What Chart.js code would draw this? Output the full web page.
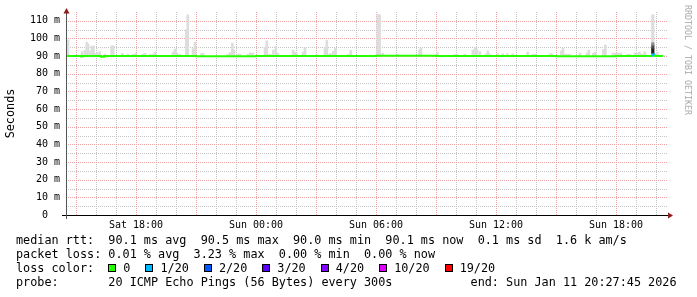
<!DOCTYPE html>
<html>
<head>
<meta charset="utf-8">
<script src="https://cdn.jsdelivr.net/npm/chart.js@4.4.1/dist/chart.umd.min.js"></script>
<style>
  html, body { margin: 0; padding: 0; background: #fff; }
  #wrap { position: relative; width: 697px; height: 297px; overflow: hidden; background: #fff; }
  #c { position: absolute; left: 0; top: 0; }
  #info { position: absolute; left: 16px; top: 234px; margin: 0; font-family: "DejaVu Sans Mono", monospace;
          font-size: 11.8px; line-height: 13.9px; white-space: pre; color: #000; }
  .box { display: inline-block; width: 6px; height: 6px; border: 1px solid #000; margin-right: 7px; vertical-align: baseline; }
  .item { margin-right: 15px; }
  #credit { position: absolute; left: 687.5px; top: 60px; transform: translate(-50%, -50%) rotate(90deg);
            font-family: "DejaVu Sans Mono", monospace; font-size: 8.3px; color: #a8a8a8; white-space: nowrap; }
</style>
</head>
<body>
<div id="wrap">
  <canvas id="c" width="697" height="297"></canvas>
  <div id="credit">RRDTOOL / TOBI OETIKER</div>
  <pre id="info">median rtt:  90.1 ms avg  90.5 ms max  90.0 ms min  90.1 ms now  0.1 ms sd  1.6 k am/s
packet loss: 0.01 % avg  3.23 % max  0.00 % min  0.00 % now
loss color:  <span id="losskey"></span>
probe:       20 ICMP Echo Pings (56 Bytes) every 300s           end: Sun Jan 11 20:27:45 2026</pre>
</div>
<script>
// ---- axis ticks (hours since Sat 00:00) ----
const xGridHours = [15,16,17,18,19,20,21,22,23,24,25,26,27,28,29,30,31,32,33,34,35,36,37,38,39,40,41,42,43,44];
const xTickHours = [18, 24, 30, 36, 42];
const xTickLabels = ['Sat 18:00', 'Sun 00:00', 'Sun 06:00', 'Sun 12:00', 'Sun 18:00'];
const yGridValues = [5,10,15,20,25,30,35,40,45,50,55,60,65,70,75,80,85,90,95,100,105,110];
const yTickValues = [0,10,20,30,40,50,60,70,80,90,100,110];
const yTickLabels = ['0  ','10 m','20 m','30 m','40 m','50 m','60 m','70 m','80 m','90 m','100 m','110 m'];

// ---- median rtt (ms) ----
const medianTimes  = [14.53, 15.27, 15.34, 16.25, 16.40, 18.0, 21.0, 24.0, 27.0, 30.0, 33.0, 36.0, 39.0, 42.0, 43.77, 43.90, 44.37];
const medianValues = [90.1,  89.8,  90.1,  89.6,  90.1,  90.1, 90.0, 90.1, 90.1, 90.2, 90.1, 90.1, 90.0, 90.1, 90.6,  90.1,  90.1];
const medianLoss   = [0,     0,     0,     0,     0,     0,    0,    0,    0,    0,    0,    0,    0,    0,    1,     0,     0];

// ---- smoke (ms): upper edge of the ping spread per sample ----
const smokeBase = 90.0;
const smokeTimes = [
  14.60, 15.30, 15.44, 15.54, 15.61, 15.71, 15.80, 15.87, 15.95, 16.07,
  16.19, 16.46, 16.78, 16.86, 17.32, 17.60, 17.87, 18.00, 18.34, 18.45,
  18.70, 18.84, 18.95, 19.85, 19.95, 20.05, 20.19, 20.52, 20.59, 20.85,
  20.95, 21.28, 21.36, 22.59, 22.71, 22.82, 22.90, 23.08, 23.18, 23.60,
  23.72, 23.84, 24.45, 24.54, 24.63, 24.72, 24.87, 24.99, 25.09, 25.85,
  25.95, 26.04, 26.35, 26.45, 27.05, 27.45, 27.54, 27.62, 27.72, 27.87,
  27.97, 28.62, 28.74, 30.09, 30.18, 30.34, 31.09, 32.18, 32.25, 33.07,
  33.95, 34.07, 34.44, 34.84, 34.95, 35.05, 35.19, 35.49, 35.59, 35.69,
  36.09, 36.34, 36.57, 36.84, 37.59, 37.85, 37.95, 38.69, 38.77, 39.27,
  39.35, 39.45, 39.55, 39.65, 40.20, 40.55, 40.64, 40.87, 40.97, 41.37,
  41.47, 41.85, 41.95, 42.05, 42.15, 42.25, 42.59, 42.69, 42.95, 43.05,
  43.17, 43.30, 43.44, 44.07
];
const smokeTops = [
  99.2, 92.6, 93.2, 97.9, 96.8, 92.6, 95.7, 95.7, 91.5, 91.9,
  92.5, 91.0, 95.8, 95.8, 91.5, 91.0, 91.0, 91.5, 91.0, 91.6,
  91.0, 91.1, 92.3, 92.3, 94.0, 91.8, 91.0, 105.0, 113.4, 94.3,
  97.9, 91.5, 91.5, 91.1, 92.1, 97.4, 93.6, 91.1, 91.1, 91.0,
  91.9, 91.7, 94.9, 98.7, 91.0, 91.0, 93.4, 95.5, 91.7, 93.4,
  92.3, 91.3, 92.3, 94.7, 91.0, 94.9, 98.9, 91.0, 91.5, 92.8,
  94.4, 91.0, 93.2, 113.4, 113.4, 91.7, 91.0, 93.6, 94.4, 92.3,
  91.0, 91.0, 91.0, 93.4, 94.9, 93.8, 92.6, 91.2, 92.9, 91.2,
  91.3, 91.3, 91.3, 91.3, 92.3, 91.0, 91.0, 91.0, 91.5, 92.9,
  94.4, 91.0, 91.0, 91.0, 91.7, 91.7, 93.4, 91.7, 92.3, 93.8,
  96.4, 91.7, 91.7, 91.7, 91.7, 91.7, 91.0, 91.0, 91.7, 91.7,
  92.3, 91.2, 92.5, 92.3
];
// the one sample with a dense spread (darker smoke bands)
const denseTime = 43.84;
const denseTop = 113.4;
const denseBands = [[96.2, 97.6], [94.4, 96.2], [91.5, 94.4]];

// ---- loss colour key ----
const lossSteps  = [0, 1, 2, 3, 4, 10, 19];
const lossLabels = ['0', '1/20', '2/20', '3/20', '4/20', '10/20', '19/20'];
const lossColors = ['#26ff00', '#00b8ff', '#0059ff', '#5e00ff', '#7e00ff', '#dd00ff', '#ff0000'];

// ---- styles ----
const MONO = "'DejaVu Sans Mono', monospace";
const majorGrid = '#eea4a4';
const minorGrid = '#c4c4c4';
const smokeColor = '#dddddd';
const denseColors = ['#8c8c8c', '#4a4a4a', '#1e1e1e'];

function lossColor(n) {
  let c = lossColors[0];
  for (let i = 0; i < lossSteps.length; i++) if (n >= lossSteps[i]) c = lossColors[i];
  return c;
}

// loss key in the text block
const key = document.getElementById('losskey');
lossLabels.forEach((lab, i) => {
  const b = document.createElement('span');
  b.className = 'box';
  b.style.background = lossColors[i];
  key.appendChild(b);
  const t = document.createElement('span');
  t.textContent = lab;
  if (i < lossLabels.length - 1) t.className = 'item';
  key.appendChild(t);
});

// dotted rrdtool-style grid, placed through the chart's own scales
const gridPlugin = {
  id: 'rrdGrid',
  beforeDatasetsDraw(chart) {
    const { ctx, chartArea: a, scales } = chart;
    ctx.save();
    ctx.lineWidth = 1;
    ctx.setLineDash([1, 1]);
    const drawSet = (major) => {
      ctx.strokeStyle = major ? majorGrid : minorGrid;
      ctx.beginPath();
      xGridHours.forEach(h => {
        if ((h % 3 === 0) !== major) return;
        const x = Math.round(scales.x.getPixelForValue(h)) + 0.5;
        ctx.moveTo(x, a.top);
        ctx.lineTo(x, a.bottom);
      });
      yGridValues.forEach(v => {
        if ((v % 10 === 0) !== major) return;
        const y = Math.round(scales.y.getPixelForValue(v)) + 0.5;
        ctx.moveTo(a.left, y);
        ctx.lineTo(a.right + 2, y);
      });
      ctx.stroke();
    };
    drawSet(false);
    drawSet(true);
    ctx.restore();
  }
};

const axesPlugin = {
  id: 'rrdAxes',
  afterDatasetsDraw(chart) {
    const { ctx, chartArea: a } = chart;
    ctx.save();
    ctx.setLineDash([]);
    ctx.strokeStyle = '#000';
    ctx.lineWidth = 1;
    ctx.beginPath();
    ctx.moveTo(a.left - 4, a.bottom + 0.5);
    ctx.lineTo(a.right + 2, a.bottom + 0.5);
    ctx.stroke();
    ctx.strokeStyle = '#555';
    ctx.beginPath();
    ctx.moveTo(a.left + 0.5, a.bottom + 4);
    ctx.lineTo(a.left + 0.5, a.top + 1);
    ctx.stroke();
    ctx.fillStyle = '#8e1c1c';
    ctx.beginPath();
    ctx.moveTo(a.left + 0.5, a.top - 4);
    ctx.lineTo(a.left - 2.5, a.top + 1.5);
    ctx.lineTo(a.left + 3.5, a.top + 1.5);
    ctx.closePath();
    ctx.fill();
    ctx.beginPath();
    ctx.moveTo(a.right + 7, a.bottom + 0.5);
    ctx.lineTo(a.right + 2, a.bottom - 2.5);
    ctx.lineTo(a.right + 2, a.bottom + 3.5);
    ctx.closePath();
    ctx.fill();
    ctx.restore();
  }
};

const datasets = [
  {
    type: 'line',
    label: 'median rtt',
    data: medianTimes.map((t, i) => ({ x: t, y: medianValues[i] })),
    borderColor: lossColors[0],
    borderWidth: 2,
    pointRadius: 0,
    stepped: true,
    order: 0,
    segment: {
      borderColor: ctx => lossColor(medianLoss[ctx.p0DataIndex]),
      borderWidth: ctx => medianLoss[ctx.p0DataIndex] > 0 ? 3 : 2
    }
  },
  {
    type: 'bar',
    label: 'smoke',
    data: smokeTimes.map((t, i) => ({ x: t, y: [smokeBase, smokeTops[i]] })),
    backgroundColor: smokeColor,
    barThickness: 2,
    grouped: false,
    borderWidth: 0,
    order: 3
  },
  {
    type: 'bar',
    label: 'smoke dense',
    data: [{ x: denseTime, y: [smokeBase, denseTop] }],
    backgroundColor: smokeColor,
    barThickness: 2.5,
    grouped: false,
    borderWidth: 0,
    order: 2
  }
];
denseBands.forEach((band, i) => {
  datasets.push({
    type: 'bar',
    label: 'band ' + i,
    data: [{ x: denseTime, y: band }],
    backgroundColor: denseColors[i],
    barThickness: 2.5,
    grouped: false,
    borderWidth: 0,
    order: 1
  });
});

new Chart(document.getElementById('c'), {
  type: 'bar',
  data: { datasets },
  plugins: [gridPlugin, axesPlugin],
  options: {
    responsive: false,
    animation: false,
    devicePixelRatio: 1,
    layout: { padding: { left: 0, right: 31, top: 12, bottom: 62 } },
    plugins: { legend: { display: false }, tooltip: { enabled: false }, title: { display: false } },
    scales: {
      x: {
        type: 'linear',
        min: 14.5,
        max: 44.5,
        offset: false,
        grid: { display: false, offset: false, drawTicks: false },
        border: { display: false },
        afterBuildTicks: s => { s.ticks = xTickHours.map(v => ({ value: v })); },
        afterFit: s => { s.height = 20; },
        ticks: {
          autoSkip: false,
          maxRotation: 0,
          padding: 4,
          color: '#000',
          font: { family: MONO, size: 10 },
          callback: v => { const i = xTickHours.indexOf(v); return i >= 0 ? xTickLabels[i] : ''; }
        }
      },
      y: {
        type: 'linear',
        min: 0,
        max: 115,
        grid: { display: false, drawTicks: false },
        border: { display: false },
        afterBuildTicks: s => { s.ticks = yTickValues.map(v => ({ value: v })); },
        afterFit: s => { s.width = 66; },
        title: {
          display: true,
          text: 'Seconds',
          color: '#000',
          font: { family: MONO, size: 11.8 },
          padding: { top: 3.5, bottom: 0 }
        },
        ticks: {
          autoSkip: false,
          padding: 6,
          color: '#000',
          font: { family: MONO, size: 10 },
          callback: v => { const i = yTickValues.indexOf(v); return i >= 0 ? yTickLabels[i] : ''; }
        }
      }
    }
  }
});
</script>
</body>
</html>
